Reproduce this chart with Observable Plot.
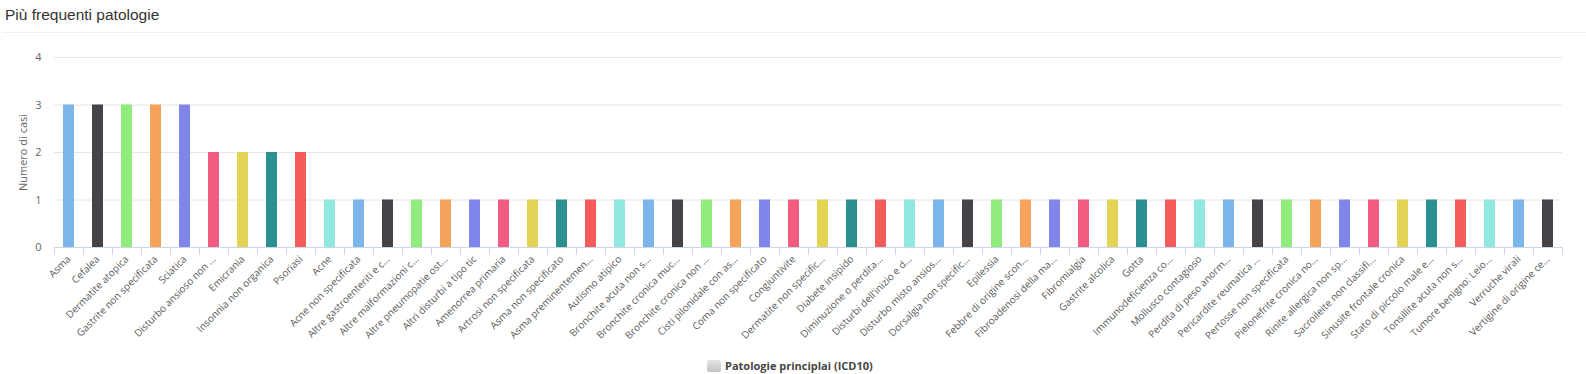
<!DOCTYPE html>
<html>
<head>
<meta charset="utf-8">
<script src="https://cdn.jsdelivr.net/npm/d3@7"></script>
<script src="https://cdn.jsdelivr.net/npm/@observablehq/plot@0.6"></script>
<style>
  html, body { margin: 0; padding: 0; background: #fff; }
  body { position: relative; width: 1586px; height: 374px; overflow: hidden; }
  #title { font-family: "Liberation Sans", Arial, sans-serif; font-size: 15.5px; color: #333;
           height: 27px; padding: 5px 0 0 3px; line-height: 20px; box-sizing: content-box;
           border-bottom: 1px solid #efefef; margin-left: 2px; }
  #chart { margin-top: 1px; }
  #chart svg { display: block; }
  #legend { position: absolute; top: 358px; left: 707px; display: flex; align-items: center;
            font-family: "Open Sans", sans-serif; font-weight: bold; font-size: 11px; color: #444; }
  #legend .sw { width: 14px; height: 12px; border-radius: 2px; margin-right: 4px;
                background: linear-gradient(#e4e4e4, #c4c4c4); }
</style>
</head>
<body>
<div id="title">Più frequenti patologie</div>
<div id="chart"></div>
<div id="legend"><div class="sw"></div><span id="legendText"></span></div>
<script>
const titleText = "Più frequenti patologie";
const yTitle = "Numero di casi";
const seriesName = "Patologie principlai (ICD10)";

const categories = [
  "Asma", "Cefalea", "Dermatite atopica", "Gastrite non specificata", "Sciatica",
  "Disturbo ansioso non …", "Emicrania", "Insonnia non organica", "Psoriasi", "Acne",
  "Acne non specificata", "Altre gastroenteriti e c…", "Altre malformazioni c…", "Altre pneumopatie ost…",
  "Altri disturbi a tipo tic", "Amenorrea primaria", "Artrosi non specificata", "Asma non specificato",
  "Asma preminentemen…", "Autismo atipico", "Bronchite acuta non s…", "Bronchite cronica muc…",
  "Bronchite cronica non …", "Cisti pilonidale con as…", "Coma non specificato", "Congiuntivite",
  "Dermatite non specific…", "Diabete insipido", "Diminuzione o perdita…", "Disturbi dell'inizio e d…",
  "Disturbo misto ansios…", "Dorsalgia non specific…", "Epilessia", "Febbre di origine scon…",
  "Fibroadenosi della ma…", "Fibromialgia", "Gastrite alcolica", "Gotta", "Immunodeficienza co…",
  "Mollusco contagioso", "Perdita di peso anorm…", "Pericardite reumatica …", "Pertosse non specificata",
  "Pielonefrite cronica no…", "Rinite allergica non sp…", "Sacroileite non classifi…",
  "Sinusite frontale cronica", "Stato di piccolo male e…", "Tonsillite acuta non s…",
  "Tumore benigno: Leio…", "Verruche virali", "Vertigine di origine ce…"
];
const values = [
  3, 3, 3, 3, 3, 2, 2, 2, 2, 1,
  1, 1, 1, 1, 1, 1, 1, 1, 1, 1,
  1, 1, 1, 1, 1, 1, 1, 1, 1, 1,
  1, 1, 1, 1, 1, 1, 1, 1, 1, 1,
  1, 1, 1, 1, 1, 1, 1, 1, 1, 1,
  1, 1
];
const yTicks = [0, 1, 2, 3, 4];
const gridTicks = [1, 2, 3, 4];
const palette = ["#7cb5ec", "#434348", "#90ed7d", "#f7a35c", "#8085e9",
                 "#f15c80", "#e4d354", "#2b908f", "#f45b5b", "#91e8e1"];

document.getElementById("title").textContent = titleText;
document.getElementById("legendText").textContent = seriesName;

const data = categories.map((name, i) => ({name, value: values[i]}));

const chart = Plot.plot({
  width: 1586,
  height: 314,
  marginLeft: 54,
  marginRight: 24,
  marginTop: 23,
  marginBottom: 101,
  style: {fontFamily: "'Open Sans', sans-serif", background: "transparent", overflow: "visible"},
  x: {domain: categories, paddingInner: 0.62, paddingOuter: 0.31, axis: null},
  y: {domain: [0, 4], axis: null},
  color: {domain: categories, range: categories.map((_, i) => palette[i % palette.length])},
  marks: [
    Plot.ruleY(gridTicks, {stroke: "#e6e6e6"}),
    Plot.barY(data, {x: "name", y: "value", fill: "name"}),
    Plot.ruleY([0], {stroke: "#ccd6eb"}),
    Plot.axisY({ticks: yTicks, tickFormat: d3.format("d"), tickSize: 0, tickPadding: 13, fontSize: 11, fill: "#666", label: null}),
    Plot.axisX({tickSize: 8, tickFormat: () => "", dx: -14.5, stroke: "#ccd6eb", strokeOpacity: 1, label: null}),
    Plot.axisX({ticks: [categories[categories.length - 1]], tickSize: 8, tickFormat: () => "", dx: 14.5, stroke: "#ccd6eb", strokeOpacity: 1, label: null}),
    Plot.axisX({tickSize: 0, tickPadding: 10, tickRotate: -45, fontSize: 10, fill: "#5a5a5a", label: null}),
    Plot.text([yTitle], {frameAnchor: "left", textAnchor: "middle", lineAnchor: "middle", rotate: -90, dx: -31, fontSize: 11, fill: "#666", text: d => d})
  ]
});
document.getElementById("chart").appendChild(chart);
</script>
</body>
</html>
